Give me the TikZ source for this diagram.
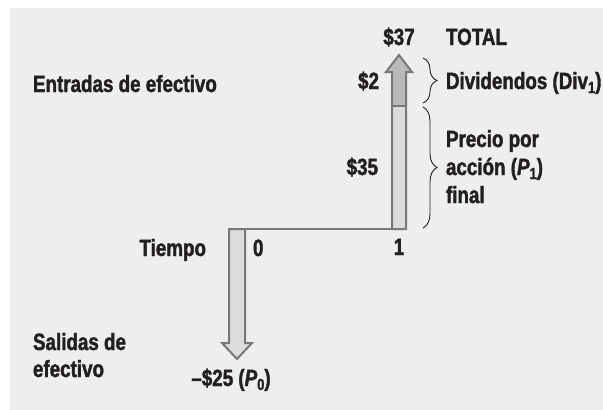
\documentclass[tikz,border=0pt]{standalone}
\usepackage{fontspec}
\setmainfont{Liberation Sans}[FakeStretch=0.8, BoldFeatures={FakeBold=1.6}, BoldItalicFeatures={FakeBold=1.6}]
\usetikzlibrary{decorations.pathreplacing}
\definecolor{bgc}{RGB}{238,238,238}
\definecolor{txt}{RGB}{35,31,32}
\definecolor{edge}{RGB}{120,120,123}
\definecolor{lightf}{RGB}{220,220,222}
\definecolor{darkf}{RGB}{185,185,187}
\newcommand{\mysub}[1]{\raisebox{-4pt}{\fontsize{16}{16}\selectfont #1}}
\tikzset{
  lbl/.style={inner sep=0pt, outer sep=0pt, text=txt, font=\fontsize{23.5}{28}\selectfont\bfseries},
  arrowedge/.style={draw=edge, line width=2pt, line join=miter},
  bracestyle/.style={draw=txt, line width=0.9pt, decorate, decoration={brace, amplitude=14pt}}
}
\begin{document}
\begin{tikzpicture}[x=1pt, y=-1pt]
\useasboundingbox (0,0) rectangle (603,410);
\fill[bgc] (10,8) rectangle (603,410);
% up arrow fills
\fill[lightf] (392,229) rectangle (406,106);
\fill[darkf] (392,106) -- (392,72) -- (386,72) -- (399,55) -- (412,72) -- (406,72) -- (406,106) -- cycle;
\draw[arrowedge] (392,229) -- (392,72) -- (386,72) -- (399,55) -- (412,72) -- (406,72) -- (406,229) -- cycle;
\draw[arrowedge] (392,106) -- (406,106);
% down arrow
\draw[arrowedge, fill=lightf] (229,229) -- (245,229) -- (245,343) -- (252,343) -- (237,359) -- (222,343) -- (229,343) -- cycle;
% time line
\draw[arrowedge] (245,229) -- (392,229);
% braces
\draw[bracestyle] (423,58) -- (423,103);
\draw[bracestyle] (423,107) -- (423,228);
% labels
\node[lbl, anchor=base] (n37) at (399,45) {\$37};
\node[lbl, anchor=base west] (total) at (446,45) {TOTAL};
\node[lbl, anchor=base west] (entradas) at (33,92) {Entradas de efectivo};
\node[lbl, anchor=base east] (d2) at (379,89) {\$2};
\node[lbl, anchor=base west] (div) at (446,89) {Dividendos (Div\mysub{1})};
\node[lbl, anchor=base east] (d35) at (378,175) {\$35};
\node[lbl, anchor=base west] (precioA) at (446,147) {Precio por};
\node[lbl, anchor=base west] (precioB) at (446,175) {acción (\textit{P}\mysub{1})};
\node[lbl, anchor=base west] (precioC) at (446,203) {final};
\node[lbl, anchor=base east] (tiempo) at (206,256) {Tiempo};
\node[lbl, anchor=base west] (t0) at (253,256) {0};
\node[lbl, anchor=base] (t1) at (399,255) {1};
\node[lbl, anchor=base west] (salidasA) at (33,350) {Salidas de};
\node[lbl, anchor=base west] (salidasB) at (33,377) {efectivo};
\node[lbl, anchor=base] (p0) at (231,386) {–\$25 (\textit{P}\mysub{0})};
\end{tikzpicture}
\end{document}
